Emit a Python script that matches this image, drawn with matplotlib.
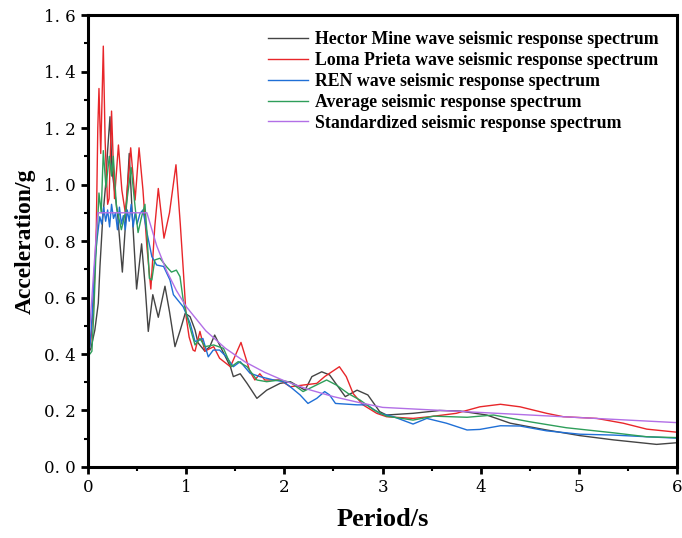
import matplotlib
matplotlib.use("Agg")
import matplotlib.pyplot as plt
from matplotlib.ticker import MultipleLocator, FuncFormatter

# Hector Mine wave
hector_T = [0, 0.03, 0.07, 0.105, 0.122, 0.15, 0.18, 0.2, 0.224, 0.245, 0.27, 0.3, 0.35, 0.38,
            0.42, 0.45, 0.495, 0.546, 0.58, 0.614, 0.66, 0.716, 0.784, 0.83, 0.886, 0.94, 0.99,
            1.04, 1.09, 1.12, 1.19, 1.24, 1.29, 1.34, 1.40, 1.45, 1.48, 1.55, 1.62, 1.72, 1.82,
            1.955, 2.06, 2.12, 2.21, 2.28, 2.38, 2.46, 2.62, 2.74, 2.85, 2.97, 3.04, 3.31, 3.58,
            3.79, 4.06, 4.30, 4.67, 5.01, 5.35, 5.79, 6.0]
hector_A = [0.40, 0.42, 0.485, 0.58, 0.71, 0.88, 1.0, 1.12, 1.24, 1.05, 0.98, 0.9, 0.69, 0.85,
            1.11, 0.9, 0.63, 0.79, 0.65, 0.48, 0.61, 0.53, 0.64, 0.55, 0.426, 0.485, 0.544,
            0.532, 0.485, 0.44, 0.41, 0.426, 0.467, 0.432, 0.39, 0.355, 0.32, 0.33, 0.296, 0.243, 0.272,
            0.296, 0.302, 0.29, 0.272, 0.32, 0.337, 0.326, 0.249, 0.272, 0.255, 0.196, 0.184, 0.19, 0.2,
            0.198, 0.184, 0.155, 0.131, 0.111, 0.096, 0.080, 0.086]

# Loma Prieta wave
loma_T = [0, 0.03, 0.06, 0.085, 0.1, 0.112, 0.13, 0.156, 0.175, 0.2, 0.215, 0.24, 0.27, 0.31,
          0.345, 0.38, 0.435, 0.48, 0.52, 0.56, 0.6, 0.64, 0.68, 0.716, 0.774, 0.83, 0.896,
          0.94, 0.97, 1.0, 1.03, 1.07, 1.09, 1.14, 1.19, 1.28, 1.34, 1.45, 1.558, 1.65, 1.70,
          1.75, 1.80, 1.955, 2.06, 2.19, 2.33, 2.41, 2.56, 2.63, 2.70, 2.80, 2.94, 3.04, 3.31,
          3.48, 3.75, 3.99, 4.20, 4.40, 4.67, 4.84, 5.18, 5.45, 5.69, 6.0]
loma_A = [0.40, 0.45, 0.6, 0.85, 1.2, 1.34, 1.11, 1.49, 1.15, 0.93, 0.95, 1.26, 0.95, 1.14,
          0.98, 0.90, 1.13, 0.945, 1.13, 0.98, 0.78, 0.63, 0.85, 0.986, 0.81, 0.9, 1.07,
          0.86, 0.70, 0.53, 0.46, 0.414, 0.41, 0.48, 0.41, 0.426, 0.385, 0.355, 0.441, 0.337, 0.308,
          0.33, 0.308, 0.308, 0.284, 0.29, 0.296, 0.32, 0.355, 0.32, 0.26, 0.22, 0.19, 0.178, 0.172,
          0.178, 0.19, 0.213, 0.222, 0.213, 0.19, 0.178, 0.172, 0.155, 0.134, 0.123]

# REN wave
ren_T = [0, 0.02, 0.04, 0.065, 0.09, 0.12, 0.14, 0.16, 0.18, 0.2, 0.22, 0.24, 0.26, 0.28, 0.3,
         0.32, 0.34, 0.36, 0.38, 0.40, 0.42, 0.44, 0.46, 0.48, 0.50, 0.53, 0.56, 0.58, 0.6, 0.63,
         0.65, 0.70, 0.77, 0.835, 0.87, 0.90, 0.97, 1.04, 1.09, 1.14, 1.17, 1.225, 1.276, 1.34,
         1.41, 1.48, 1.55, 1.65, 1.75, 1.89, 1.99, 2.06, 2.16, 2.24, 2.33, 2.41, 2.46, 2.52, 2.74,
         2.84, 2.97, 3.11, 3.31, 3.45, 3.65, 3.86, 3.99, 4.20, 4.40, 4.67, 5.01, 5.35, 5.69, 6.0]
ren_A = [0.40, 0.43, 0.52, 0.70, 0.80, 0.886, 0.86, 0.92, 0.87, 0.91, 0.85, 0.93, 0.88, 0.90, 0.84,
         0.92, 0.86, 0.89, 0.84, 0.91, 0.87, 0.93, 0.85, 0.90, 0.86, 0.898, 0.91, 0.87, 0.83, 0.78,
         0.745, 0.715, 0.71, 0.662, 0.61, 0.597, 0.567, 0.509, 0.444, 0.45, 0.455, 0.39, 0.414, 0.414,
         0.39, 0.355, 0.373, 0.332, 0.32, 0.308, 0.302, 0.284, 0.255, 0.225, 0.243, 0.267, 0.255, 0.225, 0.22,
         0.22, 0.19, 0.178, 0.152, 0.172, 0.155, 0.131, 0.133, 0.146, 0.145, 0.128, 0.116, 0.113, 0.107, 0.102]

# Average spectrum
avg_T = [0, 0.02, 0.04, 0.06, 0.08, 0.1, 0.112, 0.135, 0.156, 0.183, 0.217, 0.24, 0.258, 0.29,
         0.34, 0.38, 0.44, 0.48, 0.51, 0.546, 0.58, 0.60, 0.625, 0.65, 0.68, 0.733, 0.80, 0.85,
         0.90, 0.937, 0.97, 1.0, 1.056, 1.09, 1.14, 1.19, 1.28, 1.38, 1.46, 1.53, 1.62, 1.72,
         1.82, 1.955, 2.06, 2.19, 2.29, 2.43, 2.53, 2.65, 2.77, 2.91, 3.04, 3.31, 3.52, 3.86,
         4.13, 4.50, 4.87, 5.35, 5.69, 6.0]
avg_A = [0.40, 0.40, 0.41, 0.55, 0.75, 0.88, 0.97, 0.9, 1.12, 0.99, 1.10, 1.03, 1.10, 0.92,
         0.84, 0.9, 1.06, 0.92, 0.83, 0.886, 0.93, 0.83, 0.668, 0.662, 0.733, 0.739, 0.709, 0.69,
         0.697, 0.674, 0.59, 0.544, 0.473, 0.432, 0.455, 0.426, 0.432, 0.42, 0.355, 0.373, 0.355, 0.308,
         0.302, 0.308, 0.30, 0.267, 0.284, 0.308, 0.29, 0.26, 0.237, 0.202, 0.18, 0.166, 0.18, 0.176,
         0.184, 0.16, 0.139, 0.121, 0.107, 0.104]

# Standardized (design) spectrum
std_T = [0, 0.1, 0.6, 0.7, 0.8, 0.9, 1.0, 1.2, 1.4, 1.6, 1.8, 2.0, 2.25, 2.5, 2.75, 3.0, 6.0]
std_A = [0.40, 0.90, 0.90, 0.783, 0.695, 0.625, 0.568, 0.482, 0.42, 0.372, 0.335, 0.305,
         0.274, 0.249, 0.229, 0.211, 0.157]

labels = ["Hector Mine wave seismic response spectrum",
          "Loma Prieta wave seismic response spectrum",
          "REN wave seismic response spectrum",
          "Average seismic response spectrum",
          "Standardized seismic response spectrum"]

fig = plt.figure(figsize=(6.82, 5.38), dpi=100)
ax = fig.add_axes([0.129, 0.132, 0.864, 0.840])

ax.plot(hector_T, hector_A, color="#444444", lw=1.0, label=labels[0])
ax.plot(loma_T, loma_A, color="#e8262a", lw=1.0, label=labels[1])
ax.plot(ren_T, ren_A, color="#1f6fd6", lw=1.0, label=labels[2])
ax.plot(avg_T, avg_A, color="#2e9e5a", lw=1.0, label=labels[3])
ax.plot(std_T, std_A, color="#b26fe6", lw=1.0, label=labels[4])

ax.set_xlim(0, 6)
ax.set_ylim(0, 1.6)
ax.xaxis.set_major_locator(MultipleLocator(1))
ax.xaxis.set_minor_locator(MultipleLocator(0.5))
ax.yaxis.set_major_locator(MultipleLocator(0.2))
ax.yaxis.set_minor_locator(MultipleLocator(0.1))
ax.yaxis.set_major_formatter(FuncFormatter(lambda v, p: "{:.1f}".format(v).replace(".", ". ")))

for s in ax.spines.values():
    s.set_linewidth(2.2)
ax.tick_params(which="major", direction="out", length=5, width=2, labelsize=12, pad=4)
ax.tick_params(which="minor", direction="out", length=3, width=1.5)
for lab in ax.get_xticklabels() + ax.get_yticklabels():
    lab.set_family("DejaVu Serif")

ax.set_xlabel("Period/s", fontsize=19, fontweight="bold", family="Liberation Serif", labelpad=8)
ax.set_ylabel("Acceleration/g", fontsize=17, fontweight="bold", family="Liberation Serif", labelpad=6)

ax.legend(loc="upper right", bbox_to_anchor=(0.995, 1.0), frameon=False,
          prop={"family": "Liberation Serif", "weight": "bold", "size": 12.8},
          handlelength=2.2, labelspacing=0.22, handletextpad=0.4)

plt.savefig("out.png", dpi=100)
